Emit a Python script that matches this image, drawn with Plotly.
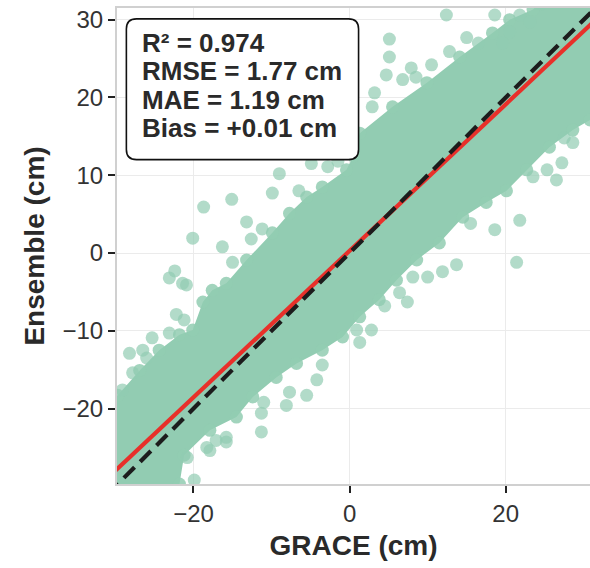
import plotly.graph_objects as go

# ---- data ----
# dense core envelope of the point cloud (GRACE cm, Ensemble cm)
upper_x = [-31, -29.7, -26.9, -24.4, -21.8, -20.1, -18.8, -17.6, -15.8, -13.2, -9.9, -7.7, -5.5, -3.5, -0.4, 0.5, 1.3, 5.5, 9.9, 14.1, 18.3, 20.5, 23.5, 25, 33]
upper_y = [-19.5, -18.3, -15.1, -12.5, -10.5, -9.9, -6.3, -4.8, -3.9, -0.9, 2.6, 5.1, 7.2, 8.5, 10.7, 12.5, 15.4, 18.8, 21.9, 25.2, 28.3, 30.0, 31.3, 33, 33]
lower_x = [33, 30.8, 28.6, 25.6, 22.7, 20.1, 17.5, 14.5, 11.5, 8.6, 6.0, 3.8, 1.3, -0.9, -3.5, -6.8, -9.4, -12.4, -14.5, -17.9, -21.2, -21.8, -22, -31]
lower_y = [17.5, 17.1, 15.8, 13.6, 10.7, 8.0, 6.5, 4.6, 1.3, -0.9, -3.5, -6.0, -8.2, -10.8, -12.5, -14.2, -16.0, -18.5, -21.1, -22.8, -26.0, -29.7, -31, -31]

# scattered points outside the dense core
out_x = [5.1, 5.1, 4.7, 12.4, 18.6, 6.8, 7.9, 3.2, 2.9, 10.5, 12.8, 15.0, 21.8, 18.6, 26.5, 27.2, 28.6, 23.5, 25.3,
         -9.0, -9.9, -15.1, -18.7, -13.2, -11.2, -12.6, -20.1, -16.3, -15.0, -20.9, -4.9, -2.8,
         -22.4, -23.1, -21.4, -22.2, -21.2, -23.1, -28.2, -25.3, -26.5, -29.1, -27.8,
         -4.2, -5.5, -7.7, -8.1, -11.3, -11.3, -15.8, -17.9, -19.9, 0.9, -3.5,
         21.4, 13.7, 11.9, 10.0, 7.4, 2.8, 1.3, 8.1, 6.4,
         -18.3, -17.1, -15.8, -20.8, 21.8, 23.1, 20.5, 19.6,
         -6.5, -1.5, 8.5, 16.5, 24.5, -26.0, -11.0, 4.5, 15.5, 27.5]
out_y = [27.5, 25.2, 22.9, 30.6, 30.6, 22.3, 23.8, 20.6, 18.8, 24.2, 25.9, 27.7, 4.2, 3.0, 9.4, 11.6, 14.2, 9.8, 10.7,
         10.2, 7.7, 6.9, 5.9, 4.0, 3.1, 1.8, 1.9, 0.8, -1.2, -4.1, 11.5, 11.1,
         -2.3, -3.2, -3.9, -7.9, -8.6, -10.3, -12.9, -10.9, -12.5, -17.6, -15.4,
         -16.3, -18.3, -17.9, -19.6, -20.6, -23.0, -24.3, -25.4, -29.2, -9.9, -14.4,
         -1.2, -1.5, -2.4, -3.1, -6.3, -9.9, -11.5, -3.1, -5.1,
         -25.0, -24.1, -23.7, -26.3, 30.6, 29.7, 28.4, 27.0,
         8.0, 11.8, 22.6, 27.0, 32.0, -13.5, -19.2, -6.8, 3.8, 14.8]

# regression fit and 1:1 reference
reg_slope = 0.942
reg_intercept = 0.28
line_x = [-31, 32]

stats_lines = ["R² = 0.974", "RMSE = 1.77 cm", "MAE = 1.19 cm", "Bias = +0.01 cm"]

x_ticks = [-20, 0, 20]
y_ticks = [-20, -10, 0, 10, 20, 30]

GREEN = "rgb(146,204,178)"
FONT = "Liberation Sans, Arial, sans-serif"

fig = go.Figure()

# dense core
fig.add_trace(go.Scatter(
    x=upper_x + lower_x, y=upper_y + lower_y, mode="lines", fill="toself",
    fillcolor=GREEN, line=dict(width=0, color=GREEN), hoverinfo="skip", showlegend=False))
# edge points of the core
fig.add_trace(go.Scatter(
    x=upper_x + lower_x, y=upper_y + lower_y, mode="markers",
    marker=dict(size=13, color=GREEN, opacity=0.85, line=dict(width=0)), showlegend=False))
# scattered points
fig.add_trace(go.Scatter(
    x=out_x, y=out_y, mode="markers",
    marker=dict(size=13, color=GREEN, opacity=0.7, line=dict(width=0)), showlegend=False))

# regression line
fig.add_trace(go.Scatter(
    x=line_x, y=[reg_slope * v + reg_intercept for v in line_x], mode="lines",
    line=dict(color="#e8302a", width=4.2), showlegend=False))
# 1:1 line
fig.add_trace(go.Scatter(
    x=line_x, y=line_x, mode="lines",
    line=dict(color="#1c1c1c", width=4.2, dash="15px,8px"), showlegend=False))

# stats box (rounded)
x0, x1, y0, y1, r = -28.6, 1.15, 12.0, 30.1, 1.3
path = (f"M {x0+r},{y0} L {x1-r},{y0} Q {x1},{y0} {x1},{y0+r} L {x1},{y1-r} Q {x1},{y1} {x1-r},{y1} "
        f"L {x0+r},{y1} Q {x0},{y1} {x0},{y1-r} L {x0},{y0+r} Q {x0},{y0} {x0+r},{y0} Z")
fig.add_shape(type="path", path=path, xref="x", yref="y", layer="above",
              line=dict(color="#111111", width=1.6), fillcolor="white")
line_ys = [27.0, 23.35, 19.7, 16.05]
for txt, yy in zip(stats_lines, line_ys):
    fig.add_annotation(x=-26.8, y=yy, xref="x", yref="y", text=f"<b>{txt}</b>", showarrow=False,
                       xanchor="left", yanchor="middle",
                       font=dict(family=FONT, size=26, color="#2a2a2a"))

axis_common = dict(
    showgrid=True, gridcolor="#ebebeb", gridwidth=1, zeroline=False,
    showline=True, linecolor="#d0d0d0", linewidth=2, mirror=True,
    ticks="outside", ticklen=7, tickwidth=1.6, tickcolor="#222222",
    tickfont=dict(family=FONT, size=24, color="#333333"),
)
fig.update_xaxes(range=[-29.8, 30.8], tickvals=x_ticks, ticktext=["−20", "0", "20"],
                 title=dict(text="<b>GRACE (cm)</b>", font=dict(family=FONT, size=28, color="#2a2a2a"), standoff=10),
                 **axis_common)
fig.update_yaxes(range=[-29.7, 31.5], tickvals=y_ticks, ticktext=["−20", "−10", "0", "10", "20", "30"],
                 title=dict(text="<b>Ensemble (cm)</b>", font=dict(family=FONT, size=28, color="#2a2a2a"), standoff=10),
                 **axis_common)

fig.update_layout(
    width=590, height=568, margin=dict(l=117, r=0, t=8, b=84, autoexpand=False),
    paper_bgcolor="white", plot_bgcolor="white",
)

fig.write_html("out.html")
